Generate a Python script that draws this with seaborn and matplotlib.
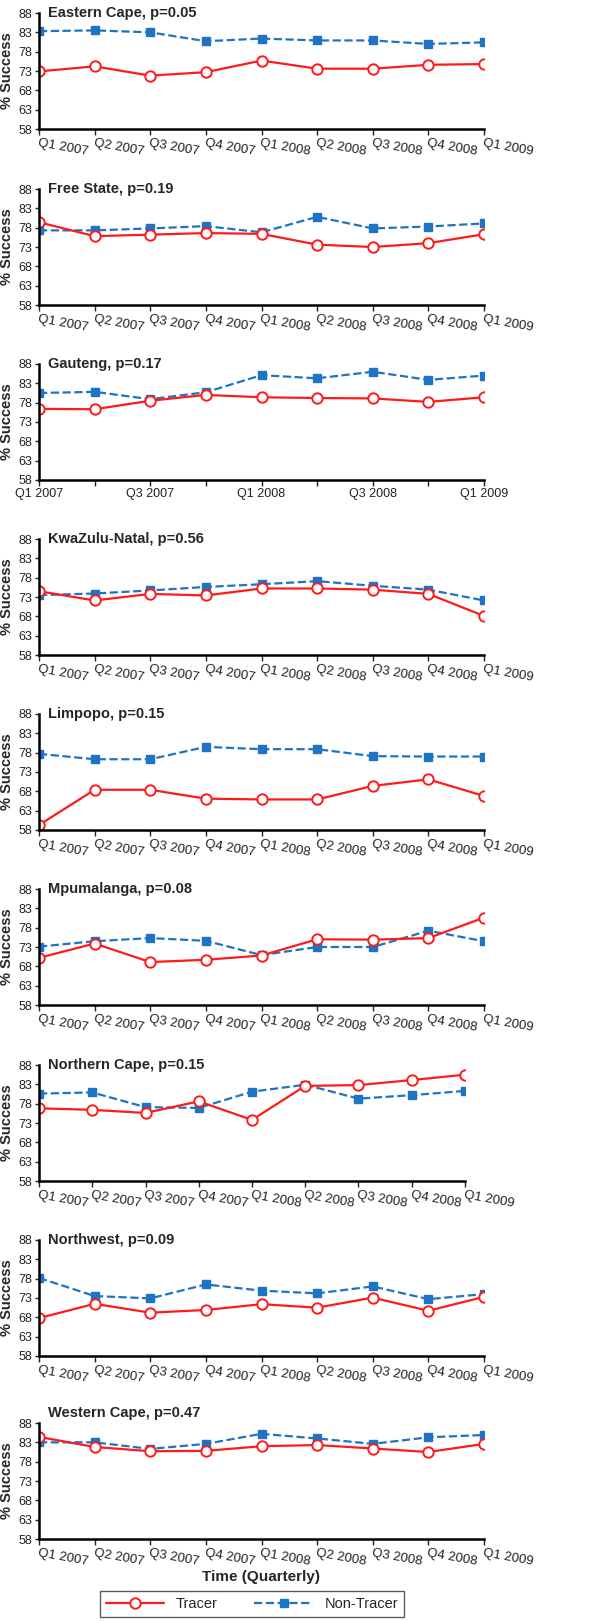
import numpy as np
import pandas as pd
import matplotlib
matplotlib.use("Agg")
import matplotlib.pyplot as plt
import seaborn as sns

quarters = ["Q1 2007", "Q2 2007", "Q3 2007", "Q4 2007", "Q1 2008",
            "Q2 2008", "Q3 2008", "Q4 2008", "Q1 2009"]

provinces = ["Eastern Cape", "Free State", "Gauteng", "KwaZulu-Natal", "Limpopo",
             "Mpumalanga", "Northern Cape", "Northwest", "Western Cape"]
p_values = ["0.05", "0.19", "0.17", "0.56", "0.15", "0.08", "0.15", "0.09", "0.47"]

tracer_ec = [72.9, 74.2, 71.8, 72.7, 75.7, 73.6, 73.6, 74.6, 74.8]
nontracer_ec = [83.3, 83.5, 83.0, 80.7, 81.4, 80.9, 80.9, 80.0, 80.4]

tracer_fs = [79.4, 75.8, 76.2, 76.6, 76.4, 73.6, 73.0, 74.0, 76.3]
nontracer_fs = [77.3, 77.3, 77.8, 78.4, 76.8, 80.8, 77.8, 78.3, 79.1]

tracer_gp = [76.4, 76.3, 78.5, 80.0, 79.4, 79.2, 79.1, 78.2, 79.4]
nontracer_gp = [80.5, 80.8, 78.9, 80.7, 85.1, 84.3, 86.0, 83.9, 85.0]

tracer_kzn = [74.5, 72.1, 73.8, 73.4, 75.2, 75.2, 74.9, 73.8, 68.1]
nontracer_kzn = [73.5, 73.9, 74.7, 75.6, 76.3, 77.1, 75.9, 74.9, 72.1]

tracer_lp = [59.3, 68.4, 68.4, 66.1, 65.9, 65.9, 69.4, 71.1, 66.8]
nontracer_lp = [77.7, 76.3, 76.3, 79.5, 78.9, 78.9, 77.1, 77.0, 77.0]

tracer_mp = [70.2, 73.9, 69.1, 69.7, 70.8, 75.0, 74.9, 75.3, 80.6]
nontracer_mp = [73.1, 74.5, 75.3, 74.6, 70.9, 73.0, 73.0, 77.2, 74.5]

tracer_nc = [76.8, 76.4, 75.6, 78.6, 73.8, 82.6, 82.8, 84.1, 85.5]
nontracer_nc = [80.6, 80.9, 77.1, 76.9, 81.1, 82.9, 79.3, 80.2, 81.3]

tracer_nw = [67.8, 71.5, 69.2, 69.9, 71.4, 70.5, 73.1, 69.7, 73.3]
nontracer_nw = [78.2, 73.5, 72.9, 76.5, 74.9, 74.2, 76.0, 72.7, 74.0]

tracer_wc = [84.4, 81.8, 80.7, 80.8, 82.0, 82.3, 81.4, 80.5, 82.6]
nontracer_wc = [83.0, 83.0, 81.3, 82.6, 85.2, 84.0, 82.6, 84.3, 84.9]

tracer_all = [tracer_ec, tracer_fs, tracer_gp, tracer_kzn, tracer_lp,
              tracer_mp, tracer_nc, tracer_nw, tracer_wc]
nontracer_all = [nontracer_ec, nontracer_fs, nontracer_gp, nontracer_kzn, nontracer_lp,
                 nontracer_mp, nontracer_nc, nontracer_nw, nontracer_wc]

y_ticks = [58, 63, 68, 73, 78, 83, 88]

sns.set_style("ticks")
plt.rcParams['font.family'] = ['Liberation Sans', 'DejaVu Sans']

W, H = 600, 1621
fig = plt.figure(figsize=(W / 100, H / 100), dpi=100)

# pixel bottoms (value 58) of each panel
bottoms_px = [129, 305, 480, 655, 830, 1005, 1181, 1356, 1539]
panel_h = 116
RED = "#ff1a1a"
BLUE = "#1f73c4"

for i, prov in enumerate(provinces):
    right_px = 465 if prov == "Northern Cape" else 484
    ax = fig.add_axes([39 / W, 1 - bottoms_px[i] / H, (right_px - 39) / W, panel_h / H])
    df = pd.DataFrame({"x": np.arange(len(quarters)),
                       "Tracer": tracer_all[i],
                       "Non-Tracer": nontracer_all[i]})
    sns.lineplot(data=df, x="x", y="Non-Tracer", ax=ax, color=BLUE, linestyle="--",
                 linewidth=1.6, marker="s", markersize=6, markerfacecolor=BLUE,
                 markeredgecolor=BLUE, markeredgewidth=1, label="Non-Tracer", legend=False)
    sns.lineplot(data=df, x="x", y="Tracer", ax=ax, color=RED, linestyle="-",
                 linewidth=1.6, marker="o", markersize=7.5, markerfacecolor="white",
                 markeredgecolor=RED, markeredgewidth=1.4, label="Tracer", legend=False)

    ax.set_xlim(0, len(quarters) - 1)
    ax.set_ylim(58, 88)
    ax.set_yticks(y_ticks)
    ax.tick_params(axis="y", labelsize=9, length=3, width=1, pad=2, colors="#222222")
    ax.tick_params(axis="x", length=4, width=1, pad=2, colors="#222222")
    ax.set_xticks(np.arange(len(quarters)))
    if prov == "Gauteng":
        ax.set_xticklabels([q if k % 2 == 0 else "" for k, q in enumerate(quarters)],
                           fontsize=9)
    else:
        ax.set_xticklabels(quarters, fontsize=9.5, rotation=-10, ha="left",
                           va="top", rotation_mode="anchor")
    for side in ["top", "right"]:
        ax.spines[side].set_visible(False)
    for side in ["left", "bottom"]:
        ax.spines[side].set_linewidth(1.8)
        ax.spines[side].set_color("black")
    ax.set_xlabel("")
    ax.set_ylabel("% Success", fontsize=10.5, fontweight="bold", labelpad=3)
    title_y = 1.09 if prov == "Western Cape" else 1.0
    ax.text(0.02, title_y, f"{prov}, p={p_values[i]}", transform=ax.transAxes,
            fontsize=10.5, fontweight="bold", ha="left", va="center")
    ax.patch.set_alpha(0)

fig.text(261 / W, 1 - 1577 / H, "Time (Quarterly)", fontsize=11, fontweight="bold",
         ha="center", va="center")

handles, labels = ax.get_legend_handles_labels()
order = [labels.index("Tracer"), labels.index("Non-Tracer")]
leg = fig.legend([handles[k] for k in order], [labels[k] for k in order],
                 loc="center", bbox_to_anchor=(252 / W, 1 - 1604 / H), ncol=2,
                 fontsize=10.5, frameon=True, fancybox=False, handlelength=4,
                 columnspacing=2.5, borderpad=0.4)
leg.get_frame().set_edgecolor("#333333")
leg.get_frame().set_linewidth(1)

fig.savefig("out.png", dpi=100)
